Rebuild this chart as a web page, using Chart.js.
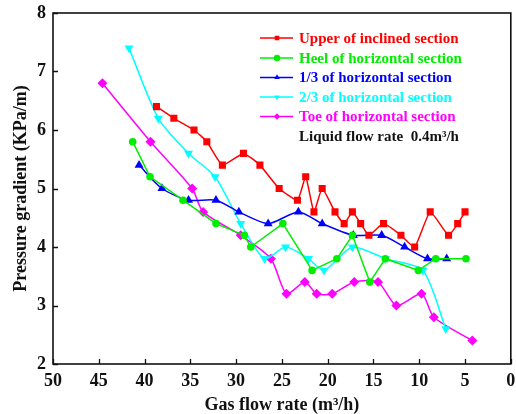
<!DOCTYPE html>
<html><head><meta charset="utf-8">
<script src="https://cdn.jsdelivr.net/npm/chart.js@4.4.1/dist/chart.umd.min.js"></script>
<style>html,body{margin:0;padding:0;background:#fff;overflow:hidden;}</style>
</head><body>
<canvas id="c" width="516" height="414"></canvas>
<script>
// ---- data ----
const seriesNames = ['Upper of inclined section', 'Heel of horizontal section', '1/3 of horizontal section', '2/3 of horizontal section', 'Toe of horizontal section'];
const upperX = [38.7, 36.8, 34.6, 33.2, 31.5, 29.2, 27.4, 25.3, 23.3, 22.4, 21.5, 20.6, 19.2, 18.2, 17.3, 16.4, 15.5, 13.9, 12.0, 10.5, 8.8, 6.8, 5.8, 5.0];
const upperY = [6.4, 6.2, 6.0, 5.8, 5.4, 5.6, 5.4, 5.0, 4.8, 5.2, 4.6, 5.0, 4.6, 4.4, 4.6, 4.4, 4.2, 4.4, 4.2, 4.0, 4.6, 4.2, 4.4, 4.6];
const heelX = [41.3, 39.4, 35.8, 32.2, 29.1, 28.4, 24.9, 21.7, 19.0, 17.3, 15.4, 13.7, 10.1, 8.2, 4.9];
const heelY = [5.8, 5.2, 4.8, 4.4, 4.2, 4.0, 4.4, 3.6, 3.8, 4.2, 3.4, 3.8, 3.6, 3.8, 3.8];
const thirdX = [40.6, 38.1, 35.2, 32.2, 29.7, 26.5, 23.2, 20.6, 17.2, 14.1, 11.6, 9.1, 7.0];
const thirdY = [5.4, 5.0, 4.8, 4.8, 4.6, 4.4, 4.6, 4.4, 4.2, 4.2, 4.0, 3.8, 3.8];
const twoThirdX = [41.7, 38.5, 35.2, 32.3, 29.5, 26.9, 24.6, 22.1, 20.4, 17.3, 13.7, 9.6, 7.1];
const twoThirdY = [7.4, 6.2, 5.6, 5.2, 4.4, 3.8, 4.0, 3.8, 3.6, 4.0, 3.8, 3.6, 2.6];
const toeX = [44.6, 39.35, 34.8, 33.6, 29.5, 26.2, 24.5, 22.5, 21.2, 19.5, 17.1, 14.5, 12.5, 9.75, 8.4, 4.2];
const toeY = [6.8, 5.8, 5.0, 4.6, 4.2, 3.8, 3.2, 3.4, 3.2, 3.2, 3.4, 3.4, 3.0, 3.2, 2.8, 2.4];
const xTickValues = [50, 45, 40, 35, 30, 25, 20, 15, 10, 5, 0];
const yTickValues = [2, 3, 4, 5, 6, 7, 8];
const xTitle = 'Gas flow rate (m³/h)';
const yTitle = 'Pressure gradient (KPa/m)';
const noteText = 'Liquid flow rate  0.4m³/h';

// ---- styling ----
const SERIF = '"Liberation Serif", "Times New Roman", serif';
const colors = ['#ff0000', '#00ee00', '#0000ff', '#00ffff', '#ff00ff'];
const styles = [
  {pointStyle: 'rect', rotation: 0, radius: 5.0, tension: 0.15},
  {pointStyle: 'circle', rotation: 0, radius: 3.8, tension: 0},
  {pointStyle: 'triangle', rotation: 0, radius: 5.2, tension: 0.25},
  {pointStyle: 'triangle', rotation: 180, radius: 5.2, tension: 0.25},
  {pointStyle: 'rectRot', rotation: 0, radius: 5.0, tension: 0.25}
];
const xs = [upperX, heelX, thirdX, twoThirdX, toeX];
const ys = [upperY, heelY, thirdY, twoThirdY, toeY];

const datasets = seriesNames.map((name, i) => ({
  label: name,
  data: xs[i].map((x, k) => ({x: x, y: ys[i][k]})),
  borderColor: colors[i],
  backgroundColor: colors[i],
  borderWidth: 1.5,
  pointStyle: styles[i].pointStyle,
  rotation: styles[i].rotation,
  pointRadius: styles[i].radius,
  pointBorderWidth: 0,
  pointBackgroundColor: colors[i],
  tension: styles[i].tension,
  fill: false
}));

const framePlugin = {
  id: 'frame',
  afterDraw(chart) {
    const ctx = chart.ctx, a = chart.chartArea;
    const xs_ = chart.scales.x, ys_ = chart.scales.y;
    ctx.save();
    ctx.strokeStyle = '#111';
    ctx.lineWidth = 1.6;
    ctx.strokeRect(a.left, a.top, a.right - a.left, a.bottom - a.top);
    ctx.lineWidth = 1.3;
    ctx.beginPath();
    xs_.ticks.forEach(t => {
      const px = Math.round(xs_.getPixelForValue(t.value)) + 0.5;
      ctx.moveTo(px, a.bottom); ctx.lineTo(px, a.bottom - 5);
    });
    ys_.ticks.forEach(t => {
      const py = Math.round(ys_.getPixelForValue(t.value)) + 0.5;
      ctx.moveTo(a.left, py); ctx.lineTo(a.left + 5, py);
    });
    ctx.stroke();

    // legend
    const lx0 = 260, lx1 = 293, mx = 277, tx = 299;
    const rowsY = [38, 58, 77.5, 97, 116.5];
    ctx.font = 'bold 15px ' + SERIF;
    ctx.textBaseline = 'middle';
    ctx.textAlign = 'left';
    chart.data.datasets.forEach((ds, i) => {
      const yy = rowsY[i];
      ctx.strokeStyle = ds.borderColor;
      ctx.lineWidth = 1.5;
      ctx.beginPath(); ctx.moveTo(lx0, yy); ctx.lineTo(lx1, yy); ctx.stroke();
      ctx.fillStyle = ds.borderColor;
      if (Chart.helpers && Chart.helpers.drawPoint) {
        Chart.helpers.drawPoint(ctx, {pointStyle: ds.pointStyle, rotation: ds.rotation, radius: 3.2, borderWidth: 0}, mx, yy);
      }
      ctx.fillStyle = ds.borderColor;
      ctx.fillText(ds.label, tx, yy + 1);
    });
    ctx.fillStyle = '#111';
    ctx.fillText(noteText, tx, 137.5);
    ctx.restore();
  }
};

new Chart(document.getElementById('c'), {
  type: 'line',
  data: {datasets: datasets},
  plugins: [framePlugin],
  options: {
    responsive: false,
    devicePixelRatio: 1,
    animation: false,
    layout: {padding: {top: 13, right: 3, left: 0, bottom: 0}},
    plugins: {legend: {display: false}, tooltip: {enabled: false}},
    scales: {
      x: {
        type: 'linear', reverse: true, min: 0, max: 50,
        afterBuildTicks: s => { s.ticks = xTickValues.map(v => ({value: v})); },
        afterFit: s => { s.height = 50; s.paddingLeft = 0; s.paddingRight = 0; },
        grid: {display: false, drawTicks: false},
        border: {display: false},
        ticks: {color: '#111', padding: 7, maxRotation: 0, autoSkip: false, font: {family: SERIF, size: 18, weight: 'bold'}},
        title: {display: true, text: xTitle, color: '#111', padding: {top: 0, bottom: 0}, font: {family: SERIF, size: 18, weight: 'bold', lineHeight: 1}}
      },
      y: {
        type: 'linear', min: 2, max: 8,
        afterBuildTicks: s => { s.ticks = yTickValues.map(v => ({value: v})); },
        afterFit: s => { s.width = 53; s.paddingTop = 0; s.paddingBottom = 0; },
        grid: {display: false, drawTicks: false},
        border: {display: false},
        ticks: {color: '#111', padding: 7, autoSkip: false, font: {family: SERIF, size: 18, weight: 'bold'}},
        title: {display: true, text: yTitle, color: '#111', padding: {top: 12, bottom: 0}, font: {family: SERIF, size: 18, weight: 'bold', lineHeight: 1}}
      }
    }
  }
});
</script>
</body></html>
